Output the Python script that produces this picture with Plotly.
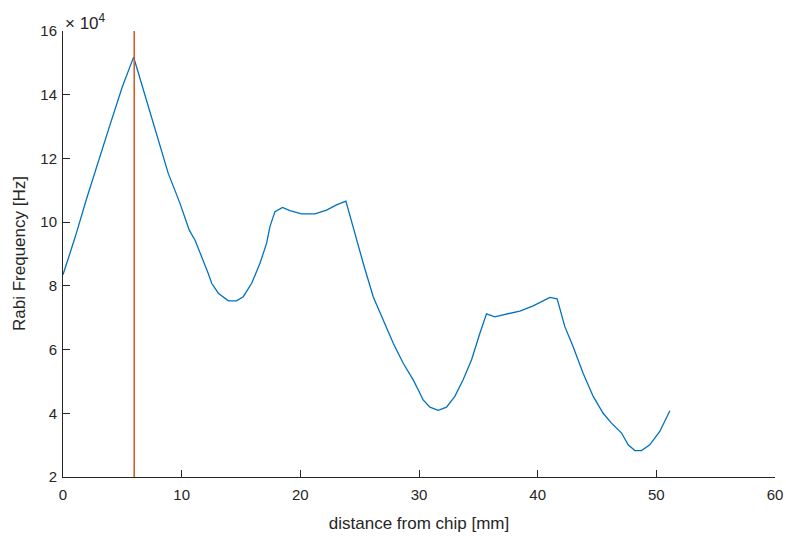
import plotly.graph_objects as go

# Rabi frequency profile along the distance from the chip
distance_mm = [
    0.0, 1.0, 2.0, 3.0, 4.0, 5.0, 5.95,
    6.2, 7.19, 8.17, 8.87, 9.86, 10.64, 11.12, 11.82, 12.24, 12.53, 13.09,
    13.93, 14.63, 15.19, 15.9, 16.6, 17.16, 17.44, 17.86, 18.5, 19.12,
    20.11, 21.23, 22.21, 23.05, 23.84, 24.46, 25.3, 26.14, 26.98, 27.83,
    28.67, 29.51, 29.93, 30.35, 30.92, 31.62, 32.32, 33.02, 33.72, 34.43,
    35.13, 35.69, 36.39, 37.66, 38.5, 39.62, 40.46, 41.03, 41.64, 42.29,
    42.99, 43.83, 44.68, 45.52, 46.22, 47.07, 47.63, 48.19, 48.75, 49.45,
    50.29, 51.14,
]
rabi_1e4 = [
    8.35, 9.5, 10.75, 11.95, 13.1, 14.25, 15.18,
    14.87, 13.62, 12.36, 11.53, 10.59, 9.75, 9.44, 8.81, 8.39, 8.08, 7.77,
    7.53, 7.53, 7.66, 8.08, 8.71, 9.34, 9.86, 10.33, 10.46, 10.36,
    10.26, 10.26, 10.38, 10.54, 10.66, 9.8, 8.71, 7.66, 6.93, 6.2,
    5.57, 5.05, 4.74, 4.42, 4.19, 4.09, 4.19, 4.53, 5.05, 5.68,
    6.51, 7.12, 7.03, 7.14, 7.21, 7.37, 7.53, 7.64, 7.59, 6.72,
    6.09, 5.26, 4.53, 4.0, 3.69, 3.38, 3.01, 2.83, 2.83, 3.01,
    3.43, 4.08,
]
rabi_hz = [v * 1e4 for v in rabi_1e4]

# vertical marker position
marker_mm = 6.0

x_ticks = [0, 10, 20, 30, 40, 50, 60]
y_ticks_1e4 = [2, 4, 6, 8, 10, 12, 14, 16]
y_tickvals = [v * 1e4 for v in y_ticks_1e4]
y_ticktext = [str(v) for v in y_ticks_1e4]

axis_color = "#262626"
font_family = "Liberation Sans, Arial, Helvetica, sans-serif"

fig = go.Figure()
fig.add_trace(go.Scatter(
    x=distance_mm, y=rabi_hz, mode="lines",
    line=dict(color="#0072BD", width=1.3),
    showlegend=False, hoverinfo="skip",
))
fig.add_trace(go.Scatter(
    x=[marker_mm, marker_mm], y=[y_tickvals[0], y_tickvals[-1]], mode="lines",
    line=dict(color="#D95319", width=1.5),
    showlegend=False, hoverinfo="skip",
))

fig.update_layout(
    width=786, height=537,
    margin=dict(l=63, r=11, t=31, b=60),
    paper_bgcolor="white", plot_bgcolor="white",
    font=dict(family=font_family, color=axis_color, size=15),
    xaxis=dict(
        range=[0, 60], tickvals=x_ticks, ticktext=[str(v) for v in x_ticks],
        showgrid=False, zeroline=False, showline=True, linecolor=axis_color, linewidth=1,
        ticks="inside", ticklen=7, tickcolor=axis_color, tickwidth=1,
        tickfont=dict(size=15, color=axis_color), ticklabelstandoff=4,
        automargin=False,
        title=dict(text="distance from chip [mm]", font=dict(size=17, color=axis_color)),
    ),
    yaxis=dict(
        range=[2e4, 16e4], tickvals=y_tickvals, ticktext=y_ticktext,
        showgrid=False, zeroline=False, showline=True, linecolor=axis_color, linewidth=1,
        ticks="inside", ticklen=7, tickcolor=axis_color, tickwidth=1,
        tickfont=dict(size=15, color=axis_color), ticklabelstandoff=2,
        automargin=False,
    ),
    annotations=[
        dict(
            text="\u00d7 10<sup>4</sup>", xref="paper", yref="paper", x=0, y=1,
            xanchor="left", yanchor="bottom", showarrow=False, yshift=-4,
            font=dict(size=17, color=axis_color),
        ),
        dict(
            text="Rabi Frequency [Hz]", xref="paper", yref="paper", x=0, y=0.5,
            xanchor="center", yanchor="middle", textangle=-90, showarrow=False,
            xshift=-44, font=dict(size=17, color=axis_color),
        ),
    ],
)

fig.write_html("out.html")
